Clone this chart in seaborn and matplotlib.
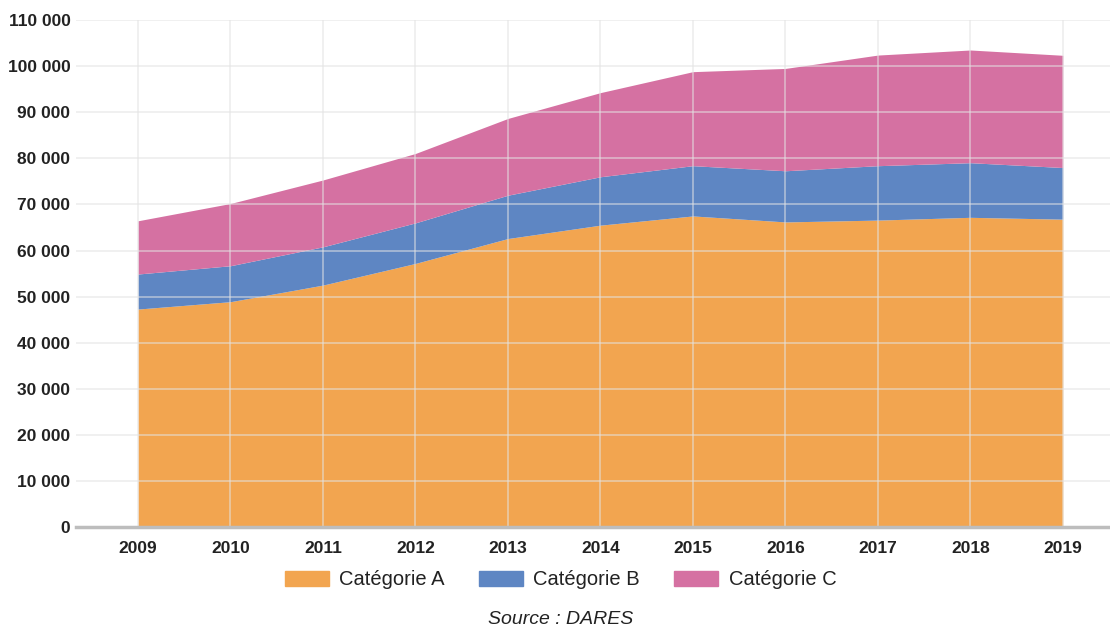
import numpy as np
import matplotlib
matplotlib.use("Agg")
import matplotlib.pyplot as plt
import matplotlib.ticker as mticker
from matplotlib.patches import Patch
import seaborn as sns

# values
years = [2009, 2010, 2011, 2012, 2013, 2014, 2015, 2016, 2017, 2018, 2019]
cat_a = [47300, 48900, 52500, 57200, 62600, 65500, 67500, 66200, 66600, 67200, 66800]
cat_b = [7600, 7800, 8300, 8800, 9400, 10500, 10900, 11100, 11800, 11850, 11200]
cat_c = [11550, 13500, 14500, 15050, 16650, 18250, 20400, 22200, 24000, 24450, 24350]
labels = ["Catégorie A", "Catégorie B", "Catégorie C"]
colors = ["#F2A550", "#5E86C3", "#D571A2"]
y_ticks = list(range(0, 110001, 10000))

sns.set_theme(style="whitegrid")
plt.rcParams['font.family'] = ['Liberation Sans', 'DejaVu Sans']

fig = plt.figure(figsize=(11.1, 6.26), dpi=100)
ax = fig.add_axes([0.0685, 0.158, 0.9315, 0.81])

ax.stackplot(years, cat_a, cat_b, cat_c, colors=colors, linewidth=0, zorder=2)

ax.set_xlim(2008.33, 2019.51)
ax.set_ylim(0, 110000)
ax.set_xticks(years)
ax.set_yticks(y_ticks)
ax.yaxis.set_major_formatter(mticker.FuncFormatter(lambda v, p: f"{int(v):,}".replace(",", " ")))

ax.grid(True, color="#e3e3e3", linewidth=1.2, zorder=3)
ax.set_axisbelow(False)
for s in ["top", "right", "left"]:
    ax.spines[s].set_visible(False)
ax.spines["bottom"].set_color("#bdbdbd")
ax.spines["bottom"].set_linewidth(2.5)
ax.spines["bottom"].set_zorder(4)

ax.tick_params(axis="x", length=4, color="#dddddd", pad=6, labelsize=12.5, labelcolor="#222222")
ax.tick_params(axis="y", length=0, pad=4, labelsize=12.5, labelcolor="#222222")
for t in ax.get_xticklabels() + ax.get_yticklabels():
    t.set_fontweight("bold")

# grid lines show faintly through the areas
for gl in ax.get_xgridlines() + ax.get_ygridlines():
    gl.set_alpha(0.6)

handles = [Patch(facecolor=c, edgecolor=c, label=l) for c, l in zip(colors, labels)]
fig.legend(handles=handles, loc="center", bbox_to_anchor=(0.505, 0.0735), ncol=3,
           frameon=False, fontsize=14.5, handlelength=2.2, handleheight=0.8,
           columnspacing=1.7, handletextpad=0.5, labelcolor="#222222")

fig.text(0.505, 0.011, "Source : DARES", ha="center", va="center", fontsize=14,
         style="italic", color="#222222")

fig.savefig("out.png", dpi=100)
